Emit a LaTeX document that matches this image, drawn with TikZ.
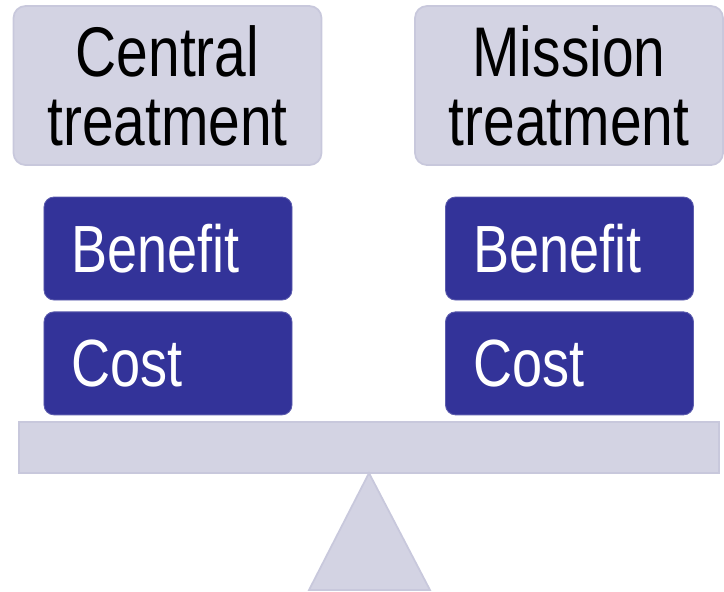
\documentclass[tikz,border=0pt]{standalone}
\usepackage{fontspec}
\setmainfont{Liberation Sans}
\newfontfamily\narrowsans[FakeStretch=0.81]{Liberation Sans}
\usepackage{tikz}
\usetikzlibrary{positioning}
\definecolor{paleLilac}{HTML}{D3D3E3}
\definecolor{lilacEdge}{HTML}{C8C8DC}
\definecolor{deepIndigo}{HTML}{333399}

\begin{document}
\begin{tikzpicture}[
			option/.style = {
				draw = lilacEdge,
				line width = 1pt,
				fill = paleLilac,
				rounded corners = 0.24cm,
				minimum width = 6.16cm,
				minimum height = 3.18cm,
				align = center,
				font = \narrowsans\fontsize{40}{39.3}\selectfont,
			},
			factor/.style = {
				draw = deepIndigo!80!white,
				line width = 0.5pt,
				fill = deepIndigo,
				text = white,
				rounded corners = 0.2cm,
				text width = 3.86cm,
				inner xsep = 0.55cm,
				minimum height = 2.06cm,
				align = left,
				font = \narrowsans\fontsize{38}{38}\selectfont,
			},
			plank/.style = {
				draw = lilacEdge,
				line width = 1pt,
				fill = paleLilac,
			}
		]
	\useasboundingbox (0,0) rectangle (14.48,-11.82);

	\node [option] (central) at (3.35,-1.71) {Central\\treatment};
	\node [option] (mission) at (11.38,-1.71) {Mission\\treatment};

	\node [factor] (centralBenefit) at (3.36,-4.97) {Benefit};
	\node [factor, below = 0.22 of centralBenefit] (centralCost) {Cost};
	\node [factor] (missionBenefit) at (11.39,-4.97) {Benefit};
	\node [factor, below = 0.22 of missionBenefit] (missionCost) {Cost};

	% balance beam and fulcrum
	\draw [plank] (0.38,-8.44) rectangle (14.38,-9.46);
	\draw [plank] (7.38,-9.46) -- (8.6,-11.8) -- (6.18,-11.8) -- cycle;
\end{tikzpicture}
\end{document}
